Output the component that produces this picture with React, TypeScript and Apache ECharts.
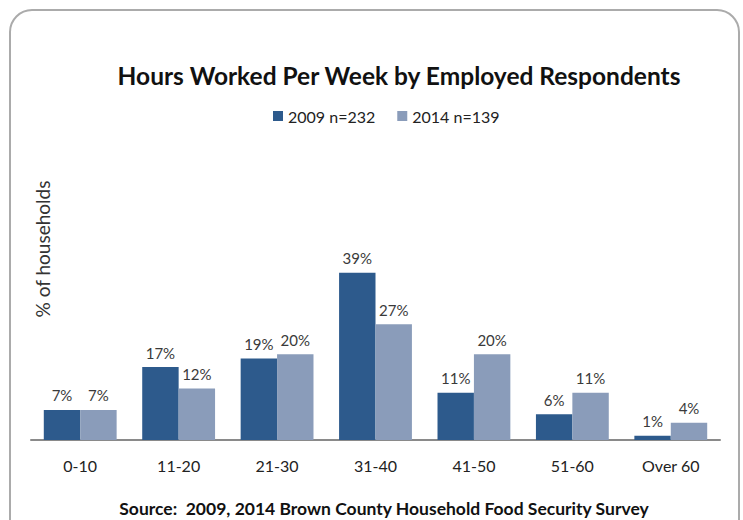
import React, { useEffect, useRef } from "react";
import * as echarts from "echarts";

const categories = ["0-10", "11-20", "21-30", "31-40", "41-50", "51-60", "Over 60"];
const series2009 = [7, 17, 19, 39, 11, 6, 1];
const series2014 = [7, 12, 20, 27, 20, 11, 4];
const seriesNames = ["2009 n=232", "2014 n=139"];
const titleText = "Hours Worked Per Week by Employed Respondents";
const yAxisLabel = "% of households";
const sourceText = "Source:  2009, 2014 Brown County Household Food Security Survey";

const FONT = "Lato, 'Noto Sans', sans-serif";

export default function App() {
  const ref = useRef<HTMLDivElement>(null);
  useEffect(() => {
    if (!ref.current) return;
    const chart = echarts.init(ref.current, null, { renderer: "svg" });
    const labelCfg = {
      show: true,
      position: "top",
      distance: 7,
      fontSize: 15,
      fontFamily: FONT,
      color: "#3a3a3a",
      formatter: "{c}%",
    };
    chart.setOption({
      animation: false,
      backgroundColor: "#ffffff",
      title: {
        text: titleText,
        left: 394,
        textAlign: "center",
        top: 58,
        textStyle: { fontFamily: FONT, fontSize: 24.5, fontWeight: "bold", color: "#111" },
      },
      legend: {
        data: seriesNames,
        top: 103,
        left: 268,
        itemWidth: 10,
        itemHeight: 10,
        itemGap: 22,
        icon: "rect",
        textStyle: { fontFamily: FONT, fontSize: 16, color: "#222" },
      },
      grid: { left: 31, right: 23, top: 247, bottom: 80, containLabel: false },
      xAxis: {
        type: "category",
        data: categories,
        axisTick: { show: false },
        axisLine: { lineStyle: { color: "#8a8a8a", width: 2 } },
        axisLabel: { fontFamily: FONT, fontSize: 16, color: "#222", margin: 17 },
      },
      yAxis: {
        type: "value",
        min: 0,
        max: 45,
        show: false,
        splitLine: { show: false },
      },
      graphic: [
        {
          type: "rect",
          z: -10,
          shape: { x: 10, y: 10, width: 729, height: 540, r: 22 },
          style: { fill: "#ffffff", stroke: "#ababab", lineWidth: 2 },
        },
        {
          type: "text",
          x: 42,
          y: 249,
          rotation: Math.PI / 2,
          style: {
            text: yAxisLabel,
            fontFamily: FONT,
            fontSize: 19,
            fill: "#333",
            align: "center",
            verticalAlign: "middle",
          },
        },
        {
          type: "text",
          x: 384,
          y: 508,
          style: {
            text: sourceText,
            fontFamily: FONT,
            fontSize: 17.5,
            fontWeight: "bold",
            fill: "#111",
            align: "center",
            verticalAlign: "middle",
          },
        },
      ],
      series: [
        {
          name: seriesNames[0],
          type: "bar",
          data: series2009,
          barGap: "0%",
          barCategoryGap: "26%",
          itemStyle: { color: "#2d5a8c" },
          label: labelCfg,
        },
        {
          name: seriesNames[1],
          type: "bar",
          data: series2014,
          itemStyle: { color: "#8a9cba" },
          label: labelCfg,
        },
      ],
    });
    return () => chart.dispose();
  }, []);
  return (
    <div
      ref={ref}
      style={{ position: "absolute", left: 0, top: 0, width: 743, height: 520 }}
    />
  );
}
